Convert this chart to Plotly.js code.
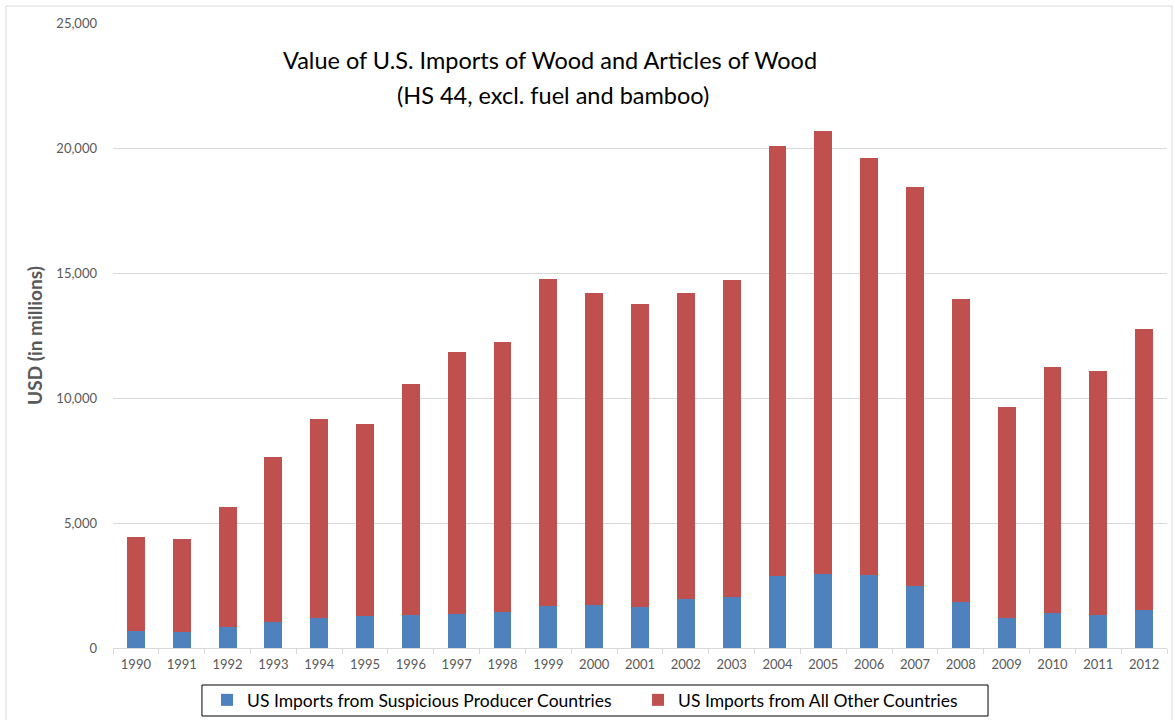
<!DOCTYPE html>
<html>
<head>
<meta charset="utf-8">
<script src="https://cdn.plot.ly/plotly-3.0.1.min.js"></script>
<style>html,body{margin:0;padding:0;background:#fff;}#chart{width:1175px;height:720px;}</style>
</head>
<body>
<div id="chart"></div>
<script>
const years = ["1990","1991","1992","1993","1994","1995","1996","1997","1998","1999","2000","2001","2002","2003","2004","2005","2006","2007","2008","2009","2010","2011","2012"];
const suspicious = [680,640,830,1040,1190,1270,1310,1350,1430,1690,1720,1640,1960,2040,2890,2970,2920,2470,1850,1190,1390,1330,1530];
const totals = [4440,4360,5640,7630,9170,8950,10570,11840,12240,14760,14200,13760,14200,14720,20080,20680,19590,18440,13970,9640,11240,11080,12760];
const others = totals.map((t,i)=>t - suspicious[i]);

const seriesNames = ["US Imports from Suspicious Producer Countries","US Imports from All Other Countries"];
const titleLines = ["Value of U.S. Imports of Wood and Articles of Wood","(HS 44, excl. fuel and bamboo)"];
const yTitle = "USD (in millions)";

const font = "Lato, 'Open Sans', sans-serif";

const traces = [
  {type:'bar', name:seriesNames[0], x:years, y:suspicious, marker:{color:'#4f81bd'}},
  {type:'bar', name:seriesNames[1], x:years, y:others, marker:{color:'#c0504d'}}
];

const layout = {
  width:1175, height:720,
  margin:{l:113, r:8, t:23, b:72},
  barmode:'stack',
  bargap:0.61,
  paper_bgcolor:'#fff', plot_bgcolor:'#fff',
  font:{family:font, color:'#595959', size:13},
  xaxis:{type:'category', showgrid:false, showline:true, linecolor:'#d9d9d9', linewidth:1,
         ticks:'outside', tickson:'boundaries', ticklen:5, tickcolor:'#d9d9d9',
         tickfont:{size:13, color:'#595959'}, ticklabelstandoff:4, fixedrange:true, automargin:false},
  yaxis:{range:[0,25000], dtick:5000, tickformat:',d', showgrid:true, gridcolor:'#d9d9d9', gridwidth:1,
         zeroline:false, showline:false, ticks:'', ticklen:0, tickfont:{size:13, color:'#595959'},
         ticklabelstandoff:15, automargin:false,
         title:{text:'<b>'+yTitle+'</b>', font:{size:19, color:'#595959'}, standoff:8}},
  showlegend:true,
  legend:{orientation:'h', xref:'container', yref:'container', x:0.1762, xanchor:'left', y:0.0528, yanchor:'top',
          borderwidth:0, bgcolor:'rgba(0,0,0,0)', entrywidth:386,
          font:{size:17.5, color:'#000', family:font}, traceorder:'normal'},
  annotations:[
    {text:titleLines[0], xref:'paper', yref:'paper', x:0.415, y:0.9408, xanchor:'center', yanchor:'middle',
     showarrow:false, font:{size:23.5, color:'#000', family:font}},
    {text:titleLines[1], xref:'paper', yref:'paper', x:0.417, y:0.8848, xanchor:'center', yanchor:'middle',
     showarrow:false, font:{size:23.5, color:'#000', family:font}}
  ],
  shapes:[
    {type:'rect', xref:'paper', yref:'paper', x0:-0.1015, x1:1.0047, y0:-0.13, y1:1.0272, line:{color:'#d9d9d9', width:1}, layer:'below'},
    {type:'rect', xref:'paper', yref:'paper', x0:0.0844, x1:0.8302, y0:-0.1088, y1:-0.0592, line:{color:'#000', width:1}, fillcolor:'rgba(0,0,0,0)', layer:'above'}
  ]
};

Plotly.newPlot('chart', traces, layout, {displayModeBar:false, staticPlot:true});
</script>
</body>
</html>
